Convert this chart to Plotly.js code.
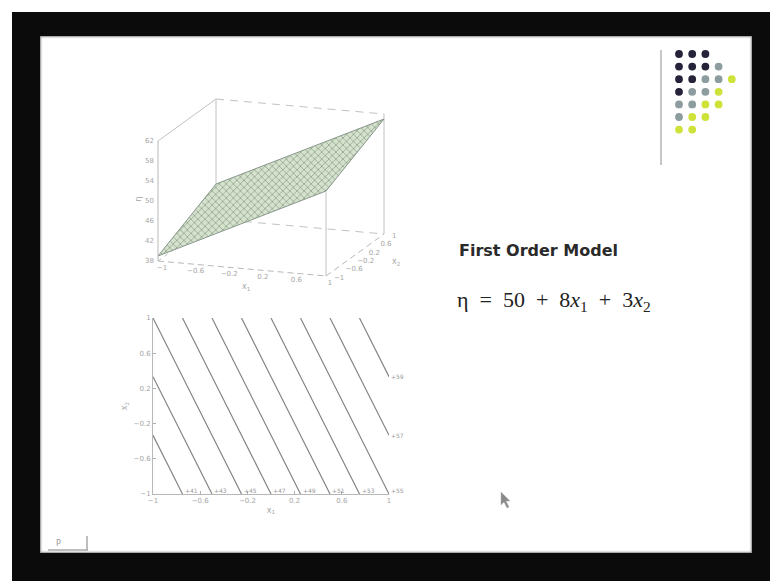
<!DOCTYPE html>
<html>
<head>
<meta charset="utf-8">
<script src="https://cdn.plot.ly/plotly-3.0.1.min.js"></script>
<style>
  html, body { margin: 0; padding: 0; background: #ffffff; }
  #frame { position: absolute; left: 12px; top: 12px; width: 758px; height: 569px; background: #0b0b0b; }
  #slide { position: absolute; left: 40px; top: 36px; width: 712px; height: 517px; background: #ffffff;
           box-shadow: inset 0 0 2px 1px #8c8c8c; }
  #chart { position: absolute; left: 0; top: 0; width: 770px; height: 581px; }
</style>
</head>
<body>
<div id="frame"></div>
<div id="slide"></div>
<div id="chart"></div>
<script>
// Coded factor levels and the first-order response on that grid (rows follow x2)
const x1 = [-1, 0, 1];
const x2 = [-1, 0, 1];
const eta = [
  [39, 47, 55],
  [42, 50, 58],
  [45, 53, 61]
];
const contourLevels = [41, 43, 45, 47, 49, 51, 53, 55, 57, 59];
const codedTicks = [-1, -0.6, -0.2, 0.2, 0.6, 1];
const etaTicks = [38, 42, 46, 50, 54, 58, 62];

// Decorative dot block in the slide corner (colour codes per row)
const dotRows = [
  ['d', 'd', 'd'],
  ['d', 'd', 'd', 'g'],
  ['d', 'd', 'g', 'g', 'y'],
  ['d', 'g', 'g', 'y'],
  ['g', 'g', 'y', 'y'],
  ['g', 'y', 'y'],
  ['y', 'y']
];
const dotColours = { d: '#25233a', g: '#8d9c9e', y: '#cfe23a' };

const W = 770, H = 581;
const px = v => v / W;          // pixel -> paper x
const py = v => 1 - v / H;      // pixel -> paper y

// ---------- 3-D view drawn on a pixel-scaled cartesian frame (x2/y2) ----------
// oblique view: screen offset per unit of x1, x2 and eta
const view = { ox: 158, oy: 261, e1: [84, 7.5], e2: [29, -21], ez: [0, -5] };
const aMin = x1[0], bMin = x2[0], zMin = etaTicks[0], zMax = etaTicks[etaTicks.length - 1];
const aMax = x1[x1.length - 1], bMax = x2[x2.length - 1];
function proj(a, b, z) {
  const s = a - aMin, t = b - bMin, h = z - zMin;
  return [view.ox + s * view.e1[0] + t * view.e2[0] + h * view.ez[0],
          view.oy + s * view.e1[1] + t * view.e2[1] + h * view.ez[1]];
}

function seg(p, q, dash, colour) {
  const P = proj(...p), Q = proj(...q);
  return { type: 'scatter', mode: 'lines', x: [P[0], Q[0]], y: [P[1], Q[1]],
    line: { color: colour || '#c2c2c2', width: 1, dash: dash || 'solid' },
    xaxis: 'x2', yaxis: 'y2', hoverinfo: 'skip', cliponaxis: false };
}

const traces = [];
// back and hidden box edges
traces.push(seg([aMin, bMax, zMin], [aMin, bMax, zMax]));
traces.push(seg([aMax, bMax, zMin], [aMax, bMax, zMax]));
traces.push(seg([aMin, bMax, zMax], [aMax, bMax, zMax], '8px,6px'));
traces.push(seg([aMin, bMax, zMin], [aMax, bMax, zMin], '8px,6px'));
traces.push(seg([aMin, bMin, zMax], [aMin, bMax, zMax]));
traces.push(seg([aMin, bMin, zMin], [aMin, bMax, zMin], '4px,4px'));

// surface: boundary of the response grid, filled with a mesh-like crosshatch
const ring = [];
for (let j = 0; j < x1.length; j++) ring.push([x1[j], x2[0], eta[0][j]]);
for (let i = 1; i < x2.length; i++) ring.push([aMax, x2[i], eta[i][x1.length - 1]]);
for (let j = x1.length - 2; j >= 0; j--) ring.push([x1[j], bMax, eta[x2.length - 1][j]]);
for (let i = x2.length - 2; i >= 0; i--) ring.push([aMin, x2[i], eta[i][0]]);
const ringXY = ring.map(p => proj(...p));
traces.push({
  type: 'scatter', mode: 'lines', fill: 'toself',
  x: ringXY.map(p => p[0]), y: ringXY.map(p => p[1]),
  fillcolor: 'rgba(208,223,200,0.9)',
  fillpattern: { shape: 'x', fgcolor: '#7d8e7a', bgcolor: 'rgba(210,224,202,0.92)', size: 5, solidity: 0.22 },
  line: { color: '#87978a', width: 1 },
  xaxis: 'x2', yaxis: 'y2', hoverinfo: 'skip'
});

// front edges (axes)
traces.push(seg([aMin, bMin, zMin], [aMin, bMin, zMax], null, '#b8b8b8'));
traces.push(seg([aMin, bMin, zMin], [aMax, bMin, zMin], '6px,4px', '#b8b8b8'));
traces.push(seg([aMax, bMin, zMin], [aMax, bMax, zMin], '6px,4px', '#b8b8b8'));
traces.push(seg([aMax, bMin, zMin], [aMax, bMin, eta[0][x1.length - 1]], null, '#c2c2c2'));

// tick labels of the 3-D view
const tickFont = { family: 'DejaVu Sans', size: 7, color: '#a6a6a6' };
function tickText(points, labels, pos, dx, dy) {
  const xy = points.map(p => proj(...p));
  return { type: 'scatter', mode: 'text', x: xy.map(p => p[0] + dx), y: xy.map(p => p[1] + dy),
    text: labels, textposition: pos, textfont: tickFont,
    xaxis: 'x2', yaxis: 'y2', hoverinfo: 'skip', cliponaxis: false };
}
const fmt = v => (v < 0 ? '\u2212' : '') + Math.abs(v);
traces.push(tickText(etaTicks.map(z => [aMin, bMin, z]), etaTicks.map(String), 'middle left', -4, 0));
traces.push(tickText(codedTicks.map(a => [a, bMin, zMin]), codedTicks.map(fmt), 'middle center', 4, 7));
traces.push(tickText(codedTicks.map(b => [aMax, b, zMin]), codedTicks.map(fmt), 'middle right', 8, 2));

// ---------- contour plot (x / y) ----------
traces.push({
  type: 'contour', x: x1, y: x2, z: eta,
  autocontour: false,
  contours: { start: contourLevels[0], end: contourLevels[contourLevels.length - 1],
              size: contourLevels[1] - contourLevels[0], coloring: 'lines', showlabels: false },
  colorscale: [[0, '#858585'], [1, '#858585']], showscale: false,
  line: { width: 1.2, smoothing: 0 },
  hoverinfo: 'skip', xaxis: 'x', yaxis: 'y'
});

// contour labels where each level leaves the plot (bottom or right edge)
function edgePoint(level) {
  const bottom = eta[0];
  for (let j = 0; j < x1.length - 1; j++) {
    if (level >= bottom[j] && level <= bottom[j + 1]) {
      const t = (level - bottom[j]) / (bottom[j + 1] - bottom[j]);
      return { x: x1[j] + t * (x1[j + 1] - x1[j]), y: x2[0] };
    }
  }
  const last = x1.length - 1;
  for (let i = 0; i < x2.length - 1; i++) {
    const a = eta[i][last], b = eta[i + 1][last];
    if (level >= a && level <= b) {
      const t = (level - a) / (b - a);
      return { x: x1[last], y: x2[i] + t * (x2[i + 1] - x2[i]) };
    }
  }
  return null;
}

const annotations = [];
contourLevels.forEach(c => {
  const p = edgePoint(c);
  if (!p) return;
  annotations.push({
    xref: 'x', yref: 'y', x: p.x, y: p.y, text: '+' + c, showarrow: false,
    xanchor: 'left', yanchor: 'middle', yshift: p.y === x2[0] ? 4 : 0,
    font: { family: 'DejaVu Sans', size: 6, color: '#9a9a9a' }
  });
});

// axis titles of the 3-D view
const titleFont = { family: 'DejaVu Sans', size: 8, color: '#a6a6a6' };
annotations.push({ xref: 'paper', yref: 'paper', x: px(240), y: py(287), text: 'x<sub>1</sub>',
  showarrow: false, font: titleFont });
annotations.push({ xref: 'paper', yref: 'paper', x: px(396), y: py(262), text: 'x<sub>2</sub>',
  showarrow: false, font: titleFont });
annotations.push({ xref: 'paper', yref: 'paper', x: px(131), y: py(199), text: 'η', textangle: -90,
  showarrow: false, font: titleFont });

// slide text
annotations.push({
  xref: 'paper', yref: 'paper', x: px(457), y: py(250), xanchor: 'left', yanchor: 'middle',
  text: '<b>First Order Model</b>', showarrow: false,
  font: { family: 'DejaVu Sans', size: 16, color: '#2a2a2a' }
});
const sp = '\u00a0\u00a0';
annotations.push({
  xref: 'paper', yref: 'paper', x: px(455), y: py(301), xanchor: 'left', yanchor: 'middle',
  text: 'η' + sp + '=' + sp + '50' + sp + '+' + sp + '8<i>x</i><sub>1</sub>' + sp + '+' + sp + '3<i>x</i><sub>2</sub>',
  showarrow: false,
  font: { family: 'Liberation Serif', size: 22, color: '#222222' }
});
// slide navigation marker, bottom left
annotations.push({
  xref: 'paper', yref: 'paper', x: px(58), y: py(543), xanchor: 'center', yanchor: 'middle',
  text: 'P', showarrow: false, font: { family: 'DejaVu Sans', size: 8, color: '#9a9a9a' }
});

// ---------- decorative shapes ----------
const shapes = [];
dotRows.forEach((row, r) => {
  row.forEach((k, c) => {
    const cx = 679 + c * 13.2, cy = 54 + r * 12.6, rad = 3.9;
    shapes.push({ type: 'circle', xref: 'paper', yref: 'paper',
      x0: px(cx - rad), x1: px(cx + rad), y0: py(cy + rad), y1: py(cy - rad),
      fillcolor: dotColours[k], line: { width: 0 } });
  });
});
shapes.push({ type: 'line', xref: 'paper', yref: 'paper', x0: px(661), x1: px(661), y0: py(50), y1: py(165),
  line: { color: '#b4b4b4', width: 1.5 } });
shapes.push({ type: 'line', xref: 'paper', yref: 'paper', x0: px(48), x1: px(88), y0: py(550), y1: py(550),
  line: { color: '#a8a8a8', width: 1.5 } });
shapes.push({ type: 'line', xref: 'paper', yref: 'paper', x0: px(87), x1: px(87), y0: py(536), y1: py(550),
  line: { color: '#a8a8a8', width: 1.5 } });
const ptr = [[501, 492], [501, 505], [504, 502], [507, 508], [509, 507], [506, 501], [510, 501]];
shapes.push({ type: 'path', xref: 'paper', yref: 'paper',
  path: 'M' + ptr.map(p => px(p[0]) + ',' + py(p[1])).join(' L') + ' Z',
  fillcolor: '#8a8a8a', line: { color: '#b0b0b0', width: 0.5 } });

// ---------- layout ----------
const layout = {
  width: W, height: H,
  margin: { l: 0, r: 0, t: 0, b: 0 },
  paper_bgcolor: 'rgba(0,0,0,0)', plot_bgcolor: 'rgba(0,0,0,0)',
  showlegend: false,
  xaxis: {
    domain: [px(153), px(389)], range: [-1, 1], tickvals: codedTicks,
    ticks: 'inside', ticklen: 3, tickcolor: '#b0b0b0', showline: true, linecolor: '#b8b8b8', linewidth: 1,
    showgrid: false, zeroline: false, tickfont: tickFont, fixedrange: true,
    title: { text: 'x<sub>1</sub>', font: titleFont, standoff: 2 }
  },
  yaxis: {
    domain: [py(494), py(318)], range: [-1, 1], tickvals: codedTicks,
    ticks: 'inside', ticklen: 3, tickcolor: '#b0b0b0', showline: true, linecolor: '#b8b8b8', linewidth: 1,
    showgrid: false, zeroline: false, tickfont: tickFont, fixedrange: true,
    title: { text: 'x<sub>2</sub>', font: titleFont, standoff: 4 }
  },
  xaxis2: { domain: [0, 1], range: [0, W], visible: false, fixedrange: true },
  yaxis2: { domain: [0, 1], range: [H, 0], visible: false, fixedrange: true },
  annotations: annotations,
  shapes: shapes
};

Plotly.newPlot('chart', traces, layout, { displayModeBar: false, staticPlot: true });
</script>
</body>
</html>
